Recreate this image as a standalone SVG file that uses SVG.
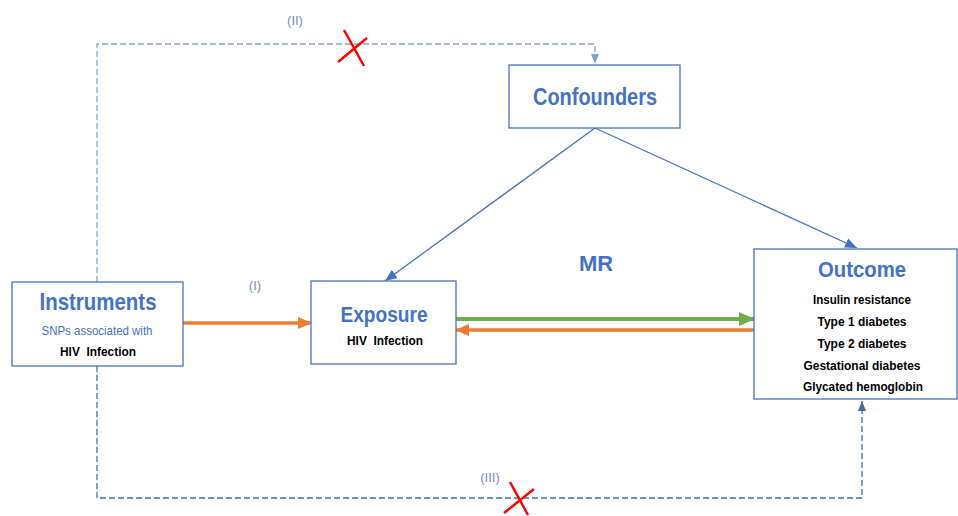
<svg xmlns="http://www.w3.org/2000/svg" width="958" height="516" viewBox="0 0 958 516">
<style>
.box{fill:#fff;stroke:#4472C4;stroke-width:1.3}
.title{font-family:"Liberation Sans",Arial,sans-serif;font-weight:bold;fill:#4472C4;text-anchor:middle}
.body{font-family:"Liberation Sans",Arial,sans-serif;font-weight:bold;fill:#000;font-size:13.5px;text-anchor:middle;white-space:pre}
.sub{font-family:"Liberation Sans",Arial,sans-serif;fill:#4472C4;font-size:13px;text-anchor:middle}
.lbl{font-family:"Liberation Sans",Arial,sans-serif;fill:#6F8FD0;font-size:13px;text-anchor:middle}
.cross{stroke:#FF0000;stroke-width:2.5;fill:none}
</style>
<defs>
<marker id="aBlue" markerUnits="userSpaceOnUse" markerWidth="14" markerHeight="12" refX="12" refY="5" orient="auto" viewBox="0 0 14 10"><path d="M0,0 L12,5 L0,10 z" fill="#4472C4"/></marker>
<marker id="aLight" markerUnits="userSpaceOnUse" markerWidth="10" markerHeight="10" refX="10" refY="4" orient="auto" viewBox="0 0 10 8"><path d="M0,0 L10,4 L0,8 z" fill="#7FA3D6"/></marker>
<marker id="aDark" markerUnits="userSpaceOnUse" markerWidth="10" markerHeight="10" refX="10" refY="4" orient="auto" viewBox="0 0 10 8"><path d="M0,0 L10,4 L0,8 z" fill="#41719C"/></marker>
<marker id="aOrange" markerUnits="userSpaceOnUse" markerWidth="14" markerHeight="14" refX="13" refY="6" orient="auto" viewBox="0 0 14 12"><path d="M0,0 L14,6 L0,12 z" fill="#ED7D31"/></marker>
<marker id="aGreen" markerUnits="userSpaceOnUse" markerWidth="16" markerHeight="14" refX="15" refY="7" orient="auto" viewBox="0 0 16 14"><path d="M0,0 L16,7 L0,14 z" fill="#70AD47"/></marker>
</defs>
<g id="connectors">
<path d="M97,282 V44 H595 V64" fill="none" stroke="#7FA3D6" stroke-width="1.3" stroke-dasharray="6,3" marker-end="url(#aLight)"/>
<path d="M97,366 V498 H862 V401" fill="none" stroke="#41719C" stroke-width="1.3" stroke-dasharray="6,3" marker-end="url(#aDark)"/>
<line x1="595" y1="128" x2="385" y2="281" stroke="#4472C4" stroke-width="1.3" marker-end="url(#aBlue)"/>
<line x1="595" y1="128" x2="857" y2="248" stroke="#4472C4" stroke-width="1.3" marker-end="url(#aBlue)"/>
<line x1="183" y1="323" x2="311" y2="323" stroke="#ED7D31" stroke-width="3.5" marker-end="url(#aOrange)"/>
<line x1="456" y1="319" x2="754" y2="319" stroke="#70AD47" stroke-width="4" marker-end="url(#aGreen)"/>
<line x1="754" y1="330" x2="456" y2="330" stroke="#ED7D31" stroke-width="3.5" marker-end="url(#aOrange)"/>
<path class="cross" d="M344,30 L364,66 M367,38 L338,62"/>
<path class="cross" d="M510,482 L528,515 M534,489 L504,513"/>
<text class="lbl" x="295" y="25">(II)</text>
<text class="lbl" x="255" y="290">(I)</text>
<text class="lbl" x="490" y="482">(III)</text>
<text class="title" x="596" y="271" font-size="22">MR</text>
</g>
<g id="instruments">
<rect class="box" x="12" y="282" width="171" height="84"/>
<text class="title" x="98" y="310" font-size="24" textLength="117" lengthAdjust="spacingAndGlyphs">Instruments</text>
<text class="sub" x="97" y="335" textLength="111" lengthAdjust="spacingAndGlyphs">SNPs associated with</text>
<text class="body" x="98" y="356" textLength="76" lengthAdjust="spacingAndGlyphs">HIV  Infection</text>
</g>
<g id="exposure">
<rect class="box" x="311" y="281" width="145" height="83"/>
<text class="title" x="384" y="322" font-size="22" textLength="87" lengthAdjust="spacingAndGlyphs">Exposure</text>
<text class="body" x="385" y="345" textLength="76" lengthAdjust="spacingAndGlyphs">HIV  Infection</text>
</g>
<g id="confounders">
<rect class="box" x="509" y="65" width="171" height="63"/>
<text class="title" x="595" y="105" font-size="23" textLength="124" lengthAdjust="spacingAndGlyphs">Confounders</text>
</g>
<g id="outcome">
<rect class="box" x="754" y="249" width="203" height="150"/>
<text class="title" x="862" y="277" font-size="22" textLength="88" lengthAdjust="spacingAndGlyphs">Outcome</text>
<text class="body" x="862" y="304" textLength="98" lengthAdjust="spacingAndGlyphs">Insulin resistance</text>
<text class="body" x="862" y="326" textLength="89" lengthAdjust="spacingAndGlyphs">Type 1 diabetes</text>
<text class="body" x="862" y="348" textLength="89" lengthAdjust="spacingAndGlyphs">Type 2 diabetes</text>
<text class="body" x="862" y="370" textLength="117" lengthAdjust="spacingAndGlyphs">Gestational diabetes</text>
<text class="body" x="863" y="391" textLength="120" lengthAdjust="spacingAndGlyphs">Glycated hemoglobin</text>
</g>
</svg>
